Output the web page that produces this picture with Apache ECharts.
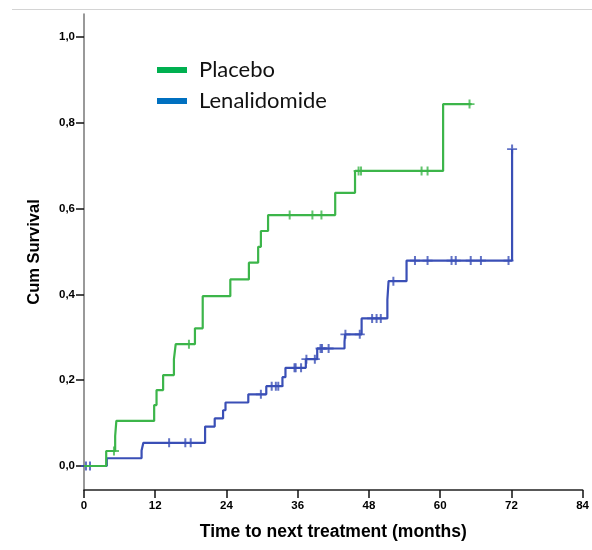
<!DOCTYPE html>
<html>
<head>
<meta charset="utf-8">
<script src="https://cdn.jsdelivr.net/npm/echarts@6/dist/echarts.min.js"></script>
<style>
html,body{margin:0;padding:0;background:#fff;}
#chart{width:592px;height:550px;}
</style>
</head>
<body>
<div id="chart"></div>
<script>
// ---- Data ----
var xTicks = [0, 12, 24, 36, 48, 60, 72, 84];
var yTicks = [0, 0.2, 0.4, 0.6, 0.8, 1.0];

// Placebo: step times (months) and cumulative value after each step
var placeboTimes  = [0, 3.74, 5.25, 5.45, 11.82, 12.22, 13.33, 15.15, 15.45, 18.69, 20.0, 24.65, 27.78, 29.34, 29.8, 31.01, 42.32, 45.66, 60.5, 65.3];
var placeboValues = [0, 0.035, 0.07, 0.105, 0.142, 0.177, 0.212, 0.249, 0.284, 0.321, 0.396, 0.435, 0.474, 0.511, 0.548, 0.585, 0.637, 0.688, 0.844, 0.844];
var placeboCensored = [5.05, 17.68, 34.65, 38.48, 40.0, 46.26, 46.67, 56.87, 57.88, 64.95];

// Lenalidomide
var lenaTimes  = [0, 3.84, 9.7, 10.0, 20.4, 22.02, 23.43, 23.84, 27.68, 30.71, 33.43, 33.94, 37.37, 39.29, 43.89, 43.99, 46.77, 51.11, 51.31, 54.34, 72.12];
var lenaValues = [0, 0.018, 0.036, 0.054, 0.092, 0.111, 0.130, 0.148, 0.167, 0.186, 0.207, 0.229, 0.249, 0.274, 0.290, 0.307, 0.344, 0.388, 0.431, 0.479, 0.739];
var lenaCensored = [0.33, 1.01, 14.34, 17.07, 17.98, 29.8, 31.62, 32.32, 32.73, 35.46, 35.66, 36.57, 37.47, 38.89, 39.85, 40.1, 41.21, 44.04, 46.46, 48.54, 49.29, 50.0, 52.12, 55.76, 57.88, 61.92, 62.63, 65.15, 66.87, 71.52, 72.12];

// ---- helpers ----
function valueAt(times, values, t) {
  var v = values[0];
  for (var i = 0; i < times.length; i++) { if (times[i] <= t) v = values[i]; }
  return v;
}
function pairs(times, values) { return times.map(function (t, i) { return [t, values[i]]; }); }
function censorPoints(ct, times, values) { return ct.map(function (t) { return [t, valueAt(times, values, t)]; }); }

var green = '#3cb54a', blue = '#3a4fb6';
var plus = 'path://M4,0H6V4H10V6H6V10H4V6H0V4H4Z';

var chart = echarts.init(document.getElementById('chart'), null, {renderer: 'canvas'});
chart.setOption({
  animation: false,
  backgroundColor: '#fff',
  grid: {left: 84, right: 4, top: 14, bottom: 60, containLabel: false},
  legend: {
    orient: 'vertical', left: 152, top: 54, itemWidth: 30, itemHeight: 6, itemGap: 9,
    icon: 'rect',
    textStyle: {fontFamily: 'Lato', fontSize: 22, color: '#111', padding: [0, 0, 0, 7]},
    data: [
      {name: 'Placebo', itemStyle: {color: '#00b050'}},
      {name: 'Lenalidomide', itemStyle: {color: '#0070c0'}}
    ]
  },
  graphic: [
    {type: 'line', shape: {x1: 12, y1: 9.5, x2: 592, y2: 9.5}, style: {stroke: '#d4d4d4', lineWidth: 1}, silent: true}
  ],
  xAxis: {
    type: 'value', min: 0, max: 84, interval: 12,
    name: 'Time to next treatment (months)', nameLocation: 'middle', nameGap: 33,
    nameTextStyle: {fontFamily: 'Liberation Sans', fontWeight: 'bold', fontSize: 17.5, color: '#000'},
    axisLine: {show: true, onZero: false, lineStyle: {color: '#222', width: 1.5}},
    axisTick: {show: true, length: 8, lineStyle: {color: '#111', width: 1.5}},
    axisLabel: {fontFamily: 'Liberation Sans', fontWeight: 'bold', fontSize: 11.5, color: '#000', margin: 10},
    splitLine: {show: false}
  },
  yAxis: {
    type: 'value', min: -0.056, max: 1.054,
    name: 'Cum Survival', nameLocation: 'middle', nameGap: 41, nameRotate: 90,
    nameTextStyle: {fontFamily: 'Liberation Sans', fontWeight: 'bold', fontSize: 16.5, color: '#000'},
    axisLine: {show: true, onZero: false, lineStyle: {color: '#777', width: 1.5}},
    axisTick: {show: true, length: 8, customValues: yTicks, lineStyle: {color: '#111', width: 1.5}},
    axisLabel: {customValues: yTicks, fontFamily: 'Liberation Sans', fontWeight: 'bold', fontSize: 11.5, color: '#000', margin: 9,
      formatter: function (v) { return v.toFixed(1).replace('.', ','); }},
    splitLine: {show: false}
  },
  series: [
    {name: 'Lenalidomide', type: 'line', step: 'end', data: pairs(lenaTimes, lenaValues), showSymbol: false,
     lineStyle: {color: blue, width: 2.2}, itemStyle: {color: blue}, z: 2},
    {name: 'Lenalidomide censored', type: 'scatter', data: censorPoints(lenaCensored, lenaTimes, lenaValues),
     symbol: plus, symbolSize: [10, 9], itemStyle: {color: blue}, z: 3},
    {name: 'Placebo', type: 'line', step: 'end', data: pairs(placeboTimes, placeboValues), showSymbol: false,
     lineStyle: {color: green, width: 2.2}, itemStyle: {color: green}, z: 4},
    {name: 'Placebo censored', type: 'scatter', data: censorPoints(placeboCensored, placeboTimes, placeboValues),
     symbol: plus, symbolSize: [10, 9], itemStyle: {color: green}, z: 5}
  ]
});
</script>
</body>
</html>
